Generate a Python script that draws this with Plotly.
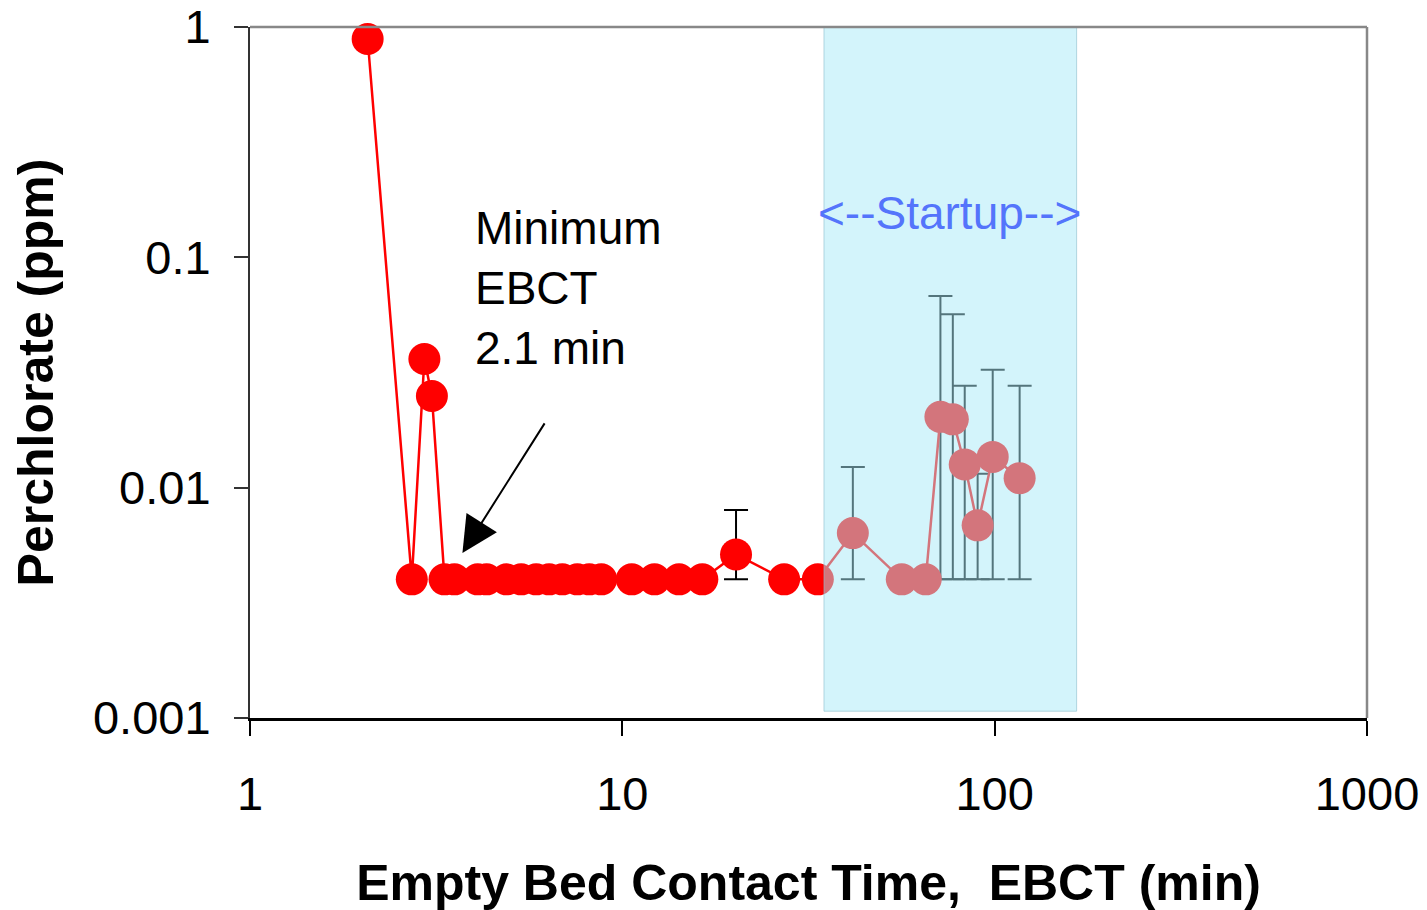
import plotly.graph_objects as go
import math

# ---- data ----
ebct_min = [2.07, 2.72, 2.94, 3.08,
            3.33, 3.54, 4.09, 4.32, 4.89, 5.35, 5.87, 6.36, 6.90, 7.57, 8.15, 8.78,
            10.6, 12.2, 14.2, 16.4, 20.2, 27.2, 33.5,
            41.6, 56.3, 65.3, 71.5, 77.2, 83.1, 90.0, 98.8, 116.7]
perchlorate_ppm = [0.887, 0.004, 0.0362, 0.025,
                   0.004, 0.004, 0.004, 0.004, 0.004, 0.004, 0.004, 0.004, 0.004, 0.004, 0.004, 0.004,
                   0.004, 0.004, 0.004, 0.004, 0.00513, 0.004, 0.004,
                   0.00635, 0.004, 0.004, 0.0203, 0.0198, 0.0126, 0.00686, 0.0136, 0.011]
err_upper = [None, None, None, None,
             None, None, None, None, None, None, None, None, None, None, None, None,
             None, None, None, None, 0.0080, None, None,
             0.0123, None, None, 0.068, 0.0566, 0.0277, 0.0115, 0.0325, 0.0277]
detection_limit = 0.004

x_ticks = [1, 10, 100, 1000]
x_tick_labels = ["1", "10", "100", "1000"]
y_ticks = [0.001, 0.01, 0.1, 1]
y_tick_labels = ["0.001", "0.01", "0.1", "1"]

startup_x = [34.8, 166.0]
startup_y = [0.00107, 1.0]

arrow_head = (3.72, 0.0052)
arrow_tail = (6.22, 0.0193)

# ---- derived error arrays ----
err_plus = [(u - v) if u is not None else None for u, v in zip(err_upper, perchlorate_ppm)]
err_minus = [(v - detection_limit) if u is not None else None for u, v in zip(err_upper, perchlorate_ppm)]

FONT = "Liberation Sans, Arial, sans-serif"

fig = go.Figure()
fig.add_trace(go.Scatter(
    x=ebct_min, y=perchlorate_ppm, mode="lines+markers",
    line=dict(color="#FF0000", width=2.5),
    marker=dict(color="#FF0000", size=32, line=dict(width=0)),
    error_y=dict(type="data", symmetric=False, array=err_plus, arrayminus=err_minus,
                 color="black", thickness=2, width=12),
    cliponaxis=False, showlegend=False,
))

shapes = [
    dict(type="rect", xref="x", yref="y",
         x0=startup_x[0], x1=startup_x[1],
         y0=startup_y[0], y1=startup_y[1],
         fillcolor="rgba(168,233,247,0.5)",
         line=dict(color="rgba(140,190,205,0.6)", width=1), layer="above"),
    dict(type="line", xref="paper", yref="paper", x0=0, x1=1, y0=1, y1=1,
         line=dict(color="#888888", width=2.5), layer="above"),
    dict(type="line", xref="paper", yref="paper", x0=1, x1=1, y0=0, y1=1,
         line=dict(color="#888888", width=2.5), layer="above"),
]

annotations = [
    dict(x=math.log10(arrow_head[0]), y=math.log10(arrow_head[1]),
         ax=math.log10(arrow_tail[0]), ay=math.log10(arrow_tail[1]),
         xref="x", yref="y", axref="x", ayref="y", text="",
         showarrow=True, arrowhead=2, arrowsize=3.6, arrowwidth=2, arrowcolor="black"),
    dict(x=0.598, y=-1.133, xref="x", yref="y", xanchor="left", yanchor="middle",
         align="left", showarrow=False, text="Minimum<br>EBCT<br>2.1 min",
         font=dict(family=FONT, size=46, color="black")),
    dict(x=1.879, y=-0.808, xref="x", yref="y", xanchor="center", yanchor="middle",
         showarrow=False, text="&lt;--Startup--&gt;",
         font=dict(family=FONT, size=46, color="rgb(84,116,251)")),
]

fig.update_layout(
    width=1427, height=910,
    margin=dict(l=242, r=68, t=19, b=200),
    paper_bgcolor="white", plot_bgcolor="white",
    font=dict(family=FONT, color="black"),
    shapes=shapes, annotations=annotations,
    xaxis=dict(type="log", range=[0, 3], tickvals=x_ticks, ticktext=x_tick_labels,
               automargin=False, ticklabeloverflow="allow",
               showgrid=False, zeroline=False, showline=True, linecolor="black", linewidth=2.5,
               ticks="outside", ticklen=15, tickwidth=1.5, tickcolor="black",
               tickfont=dict(family=FONT, size=47, color="black"), ticklabelstandoff=18,
               title=dict(text="<b>Empty Bed Contact Time,\u00a0\u00a0EBCT (min)</b>",
                          font=dict(family=FONT, size=50, color="black"), standoff=46)),
    yaxis=dict(type="log", range=[-3, 0], tickvals=y_ticks, ticktext=y_tick_labels,
               automargin=False, ticklabeloverflow="allow",
               showgrid=False, zeroline=False, showline=True, linecolor="#333333", linewidth=2,
               ticks="outside", ticklen=14, tickwidth=1.5, tickcolor="#333333",
               tickfont=dict(family=FONT, size=47, color="black"), ticklabelstandoff=14,
               title=dict(text="<b>Perchlorate (ppm)</b>",
                          font=dict(family=FONT, size=50, color="black"), standoff=24)),
)

fig.write_html("out.html")
